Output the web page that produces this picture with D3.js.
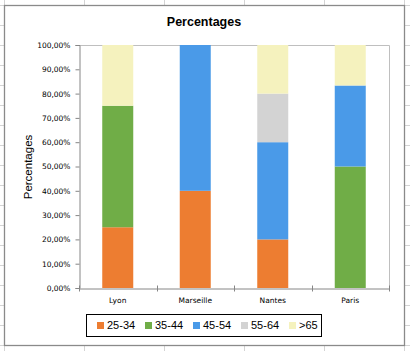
<!DOCTYPE html>
<html>
<head>
<meta charset="utf-8">
<script src="https://cdn.jsdelivr.net/npm/d3@7"></script>
<style>
  html, body { margin: 0; padding: 0; background: #fff; }
  svg { display: block; }
</style>
</head>
<body>
<script>
// data
const cities = ['Lyon', 'Marseille', 'Nantes', 'Paris'];
const ageGroups = ['25-34', '35-44', '45-54', '55-64', '>65'];
const share2534 = [0.25, 0.40, 0.20, 0];
const share3544 = [0.50, 0, 0, 0.50];
const share4554 = [0, 0.60, 0.40, 0.3333];
const share5564 = [0, 0, 0.20, 0];
const shareOver65 = [0.25, 0, 0.20, 0.1667];
const yTicks = [0, 0.1, 0.2, 0.3, 0.4, 0.5, 0.6, 0.7, 0.8, 0.9, 1];

const groupColor = ['#ED7D31', '#70AD47', '#4A9AE8', '#D3D3D3', '#F5F2BE'];

const W = 410, H = 351;
const plot = { left: 79, right: 389, top: 45, bottom: 288 };

const svg = d3.select('body').append('svg')
    .attr('width', W)
    .attr('height', H);

// spreadsheet grid behind the chart object
const bg = svg.append('g');
bg.selectAll('line.row')
  .data(d3.range(5, H, 20))
  .enter().append('line')
  .attr('x1', 0).attr('x2', W)
  .attr('y1', d => d + 0.5).attr('y2', d => d + 0.5)
  .attr('stroke', '#d4d4d4');
bg.selectAll('line.col')
  .data(d3.range(4, W, 80))
  .enter().append('line')
  .attr('x1', d => d + 0.5).attr('x2', d => d + 0.5)
  .attr('y1', 0).attr('y2', H)
  .attr('stroke', '#d4d4d4');

// chart object box
svg.append('rect')
   .attr('x', 4.5).attr('y', 5.5)
   .attr('width', 400).attr('height', 340)
   .attr('fill', '#fff')
   .attr('stroke', '#8a8a8a')
   .attr('stroke-width', 1.3);

// title
svg.append('text')
   .attr('x', 204).attr('y', 26)
   .attr('text-anchor', 'middle')
   .style('font', 'bold 12.5px "Liberation Sans", Arial, sans-serif')
   .attr('fill', '#000')
   .text('Percentages');

// scales
const x = d3.scaleBand()
    .domain(cities)
    .range([plot.left, plot.right])
    .paddingInner(0.6)
    .paddingOuter(0.3);

const xBand = d3.scaleBand()
    .domain(cities)
    .range([plot.left, plot.right]);

const y = d3.scaleLinear()
    .domain([0, 1])
    .range([plot.bottom, plot.top]);

// stack the series
const rows = cities.map((c, i) => ({
    city: c,
    '25-34': share2534[i],
    '35-44': share3544[i],
    '45-54': share4554[i],
    '55-64': share5564[i],
    '>65': shareOver65[i]
}));
const series = d3.stack().keys(ageGroups)(rows);
const color = d3.scaleOrdinal().domain(ageGroups).range(groupColor);

// plot area top/right border
svg.append('path')
   .attr('d', `M${plot.left},${plot.top + 0.5}H${plot.right + 0.5}V${plot.bottom}`)
   .attr('fill', 'none')
   .attr('stroke', '#bfbfbf');

svg.append('g')
   .selectAll('g')
   .data(series)
   .enter().append('g')
   .attr('fill', d => color(d.key))
   .selectAll('rect')
   .data(d => d)
   .enter().append('rect')
   .attr('x', d => x(d.data.city))
   .attr('width', x.bandwidth())
   .attr('y', d => y(d[1]))
   .attr('height', d => y(d[0]) - y(d[1]));

// y axis
const yAxis = d3.axisLeft(y)
    .tickValues(yTicks)
    .tickSize(4)
    .tickPadding(5)
    .tickFormat(d => d3.format('.2f')(d * 100).replace('.', ',') + '%');

const gy = svg.append('g')
    .attr('transform', `translate(${plot.left + 0.5},0)`)
    .call(yAxis);
gy.select('.domain').attr('stroke', '#868686');
gy.selectAll('.tick line').attr('stroke', '#868686');
gy.selectAll('.tick text')
  .attr('fill', '#000')
  .style('font', '7.5px "DejaVu Sans", Verdana, sans-serif');

// x axis
const xAxis = d3.axisBottom(xBand)
    .tickSize(0)
    .tickPadding(9);

const gx = svg.append('g')
    .attr('transform', `translate(0,${plot.bottom + 0.5})`)
    .call(xAxis);
gx.select('.domain').attr('stroke', '#868686');
gx.selectAll('.tick text')
  .attr('fill', '#000')
  .style('font', '7.5px "DejaVu Sans", Verdana, sans-serif');

// cross ticks at band boundaries
const bounds = cities.map(c => xBand(c)).concat([plot.right]);
gx.selectAll('line.bound')
  .data(bounds)
  .enter().append('line')
  .attr('x1', d => Math.round(d) + 0.5).attr('x2', d => Math.round(d) + 0.5)
  .attr('y1', -3).attr('y2', 3)
  .attr('stroke', '#868686');

// y axis title
svg.append('text')
   .attr('transform', 'translate(32,167) rotate(-90)')
   .attr('text-anchor', 'middle')
   .style('font', '11.5px "Liberation Sans", Arial, sans-serif')
   .attr('fill', '#000')
   .text('Percentages');

// legend
const legend = svg.append('g');
legend.append('rect')
   .attr('x', 86.5).attr('y', 314.5)
   .attr('width', 235).attr('height', 22)
   .attr('fill', '#fff')
   .attr('stroke', '#000');

const item = legend.selectAll('g.item')
   .data(ageGroups)
   .enter().append('g')
   .attr('transform', (d, i) => `translate(${97 + i * 48},0)`);
item.append('rect')
    .attr('x', 0).attr('y', 322)
    .attr('width', 7).attr('height', 7)
    .attr('fill', d => color(d));
item.append('text')
    .attr('x', 10).attr('y', 329)
    .style('font', '11px "Liberation Sans", Arial, sans-serif')
    .attr('fill', '#000')
    .text(d => d);
</script>
</body>
</html>
